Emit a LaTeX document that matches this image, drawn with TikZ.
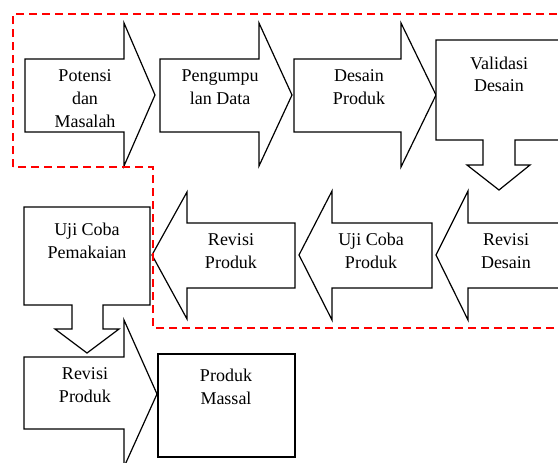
\documentclass[tikz,border=0pt]{standalone}
\usepackage{fontspec}
\setmainfont{Liberation Serif}
\begin{document}
\begin{tikzpicture}[x=1pt,y=-1pt,
  blk/.style={draw,line width=1.2pt,fill=white,line join=miter},
  lbl/.style={align=center,inner sep=0pt,anchor=base,font=\fontsize{18}{23}\selectfont},
  zone/.style={draw=red,line width=2.2pt,dash pattern=on 8pt off 5pt}]
\useasboundingbox (0,0) rectangle (558,463);
% top row, pointing right
\draw[blk] (25,59) -- (124,59) -- (124,23) -- (155,95) -- (124,166) -- (124,132) -- (25,132) -- cycle;
\draw[blk] (160,59) -- (259,59) -- (259,23) -- (292,95) -- (259,166) -- (259,132) -- (160,132) -- cycle;
\draw[blk] (294,59) -- (401,59) -- (401,23) -- (436,95) -- (401,167) -- (401,132) -- (294,132) -- cycle;
\draw[blk] (436,40) -- (562,40) -- (562,140) -- (515,140) -- (515,165) -- (530,165) -- (499,190)
  -- (467,165) -- (483,165) -- (483,140) -- (436,140) -- cycle;
% middle row, pointing left
\draw[blk] (575,223) -- (468,223) -- (468,191) -- (436,255) -- (468,320) -- (468,288) -- (575,288) -- cycle;
\draw[blk] (432,223) -- (332,223) -- (332,191) -- (299,255) -- (332,320) -- (332,288) -- (432,288) -- cycle;
\draw[blk] (295,223) -- (187,223) -- (187,192) -- (152,255) -- (187,319) -- (187,288) -- (295,288) -- cycle;
\draw[blk] (24,207) -- (150,207) -- (150,305) -- (103,305) -- (103,329) -- (119,329) -- (87,353)
  -- (55,329) -- (72,329) -- (72,305) -- (24,305) -- cycle;
% bottom row
\draw[blk] (24,357) -- (124,357) -- (124,320) -- (157,394) -- (124,467) -- (124,429) -- (24,429) -- cycle;
\draw[blk] (158,354) rectangle (295,457);
% labels (anchored at the last line)
\node[lbl] (potensi) at (85,127) {Potensi\\dan\\Masalah};
\node[lbl] (kumpul) at (220,104) {Pengumpu\\lan Data};
\node[lbl] (desain) at (359,104) {Desain\\Produk};
\node[lbl] (validasi) at (499,92) {Validasi\\Desain};
\node[lbl] (revdesain) at (506,268) {Revisi\\Desain};
\node[lbl] (ujiproduk) at (371,268) {Uji Coba\\Produk};
\node[lbl] (revproduk) at (231,268) {Revisi\\Produk};
\node[lbl] (ujipakai) at (87,258) {Uji Coba\\Pemakaian};
\node[lbl] (revproduk2) at (85,402) {Revisi\\Produk};
\node[lbl] (massal) at (226,404) {Produk\\Massal};
% dashed zone
\draw[zone] (13,167) -- (13,14) -- (570,14) -- (570,328) -- (153,328) -- (153,167) -- cycle;
\end{tikzpicture}
\end{document}
